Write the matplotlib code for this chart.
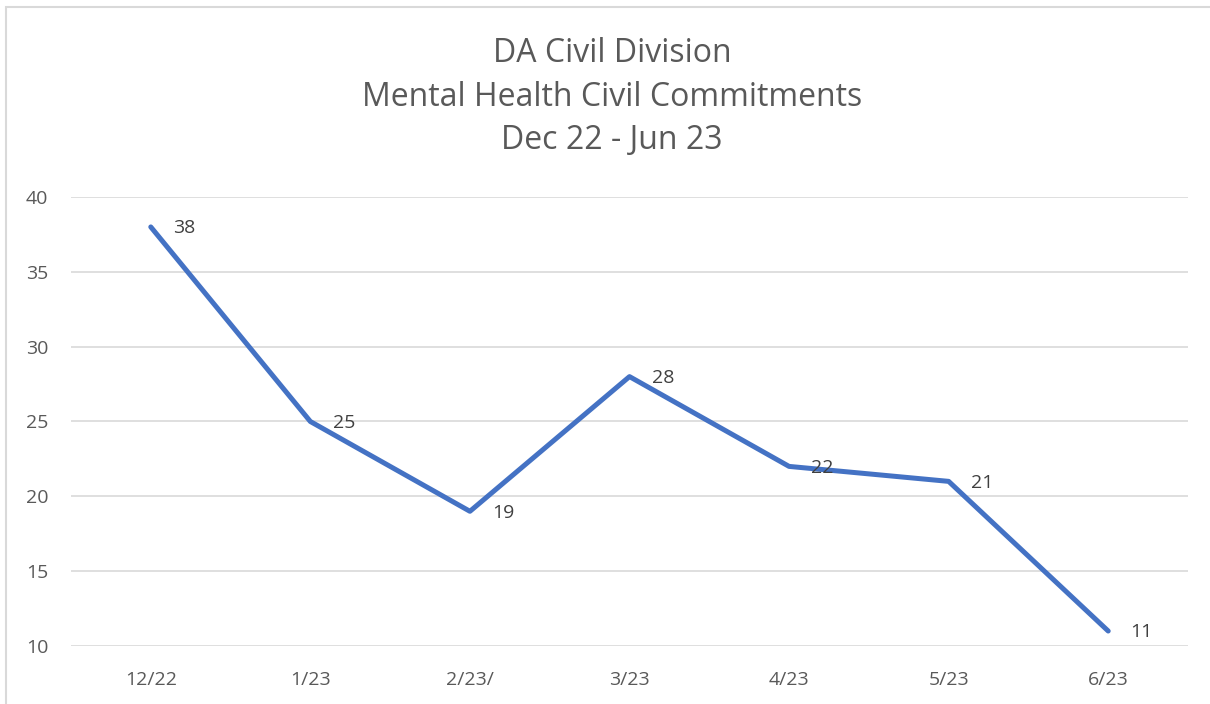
import matplotlib
matplotlib.use("Agg")
import matplotlib.pyplot as plt
from matplotlib.patches import Rectangle

months = ["12/22", "1/23", "2/23/", "3/23", "4/23", "5/23", "6/23"]
commitments = [38, 25, 19, 28, 22, 21, 11]
y_ticks = [10, 15, 20, 25, 30, 35, 40]

plt.rcParams['font.family'] = ['Open Sans', 'DejaVu Sans']

fig = plt.figure(figsize=(12.10, 7.04), dpi=100)
ax = fig.add_axes([71/1210, 1-646/704, (1188-71)/1210, (646-197)/704])

# chart border (light gray frame)
fig.patches.append(Rectangle((6/1210, -0.01), 1.02, 1-7/704+0.01, transform=fig.transFigure,
                             fill=False, edgecolor="#D9D9D9", lw=1.5))

idx = list(range(len(months)))
ax.plot(idx, commitments, color="#4472C4", lw=3.6, solid_capstyle="round", solid_joinstyle="round", zorder=3)

for i, v in zip(idx, commitments):
    ax.annotate(str(v), (i, v), xytext=(16, -1), textcoords="offset points",
                ha="left", va="center", fontsize=14, color="#404040", zorder=4)

ax.set_xlim(-0.5, len(months) - 0.5)
ax.set_ylim(10, 40)
ax.set_xticks(idx)
ax.set_xticklabels(months)
ax.set_yticks(y_ticks)
ax.tick_params(axis="both", length=0, labelsize=14, labelcolor="#595959")
ax.tick_params(axis="x", pad=18)
ax.tick_params(axis="y", pad=16.5)
ax.grid(axis="y", color="#D9D9D9", lw=1.2)
ax.set_axisbelow(True)
for s in ax.spines.values():
    s.set_visible(False)

fig.text(612/1210, 1-97/704, "DA Civil Division\nMental Health Civil Commitments\nDec 22 - Jun 23",
         ha="center", va="center", fontsize=23, color="#595959", linespacing=1.42)

plt.savefig("out.png", dpi=100)
